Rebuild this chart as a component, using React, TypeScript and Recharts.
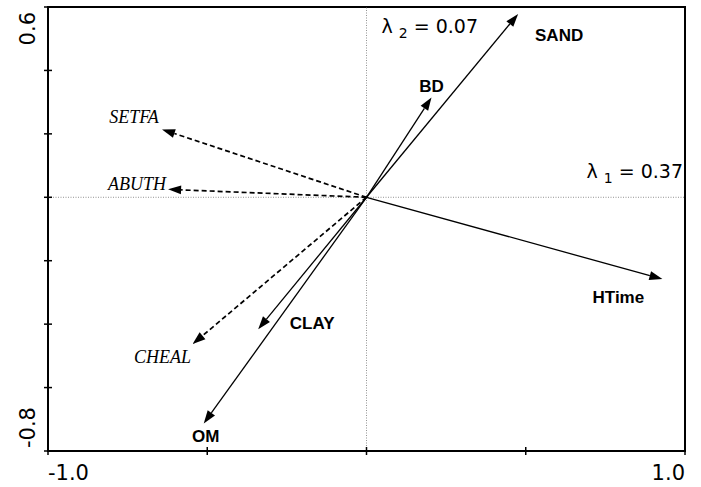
import React from 'react'
import { ScatterChart, Scatter, XAxis, YAxis, ReferenceLine, ReferenceArea } from 'recharts'

// environmental variables (solid arrows), scores on axis 1 / axis 2
const envNames = ['SAND', 'BD', 'HTime', 'CLAY', 'OM']
const envAxis1 = [0.476, 0.204, 0.929, -0.34, -0.511]
const envAxis2 = [0.578, 0.315, -0.258, -0.416, -0.713]

// weed species (dashed arrows)
const speciesNames = ['SETFA', 'ABUTH', 'CHEAL']
const speciesAxis1 = [-0.642, -0.623, -0.546]
const speciesAxis2 = [0.214, 0.025, -0.463]

const eigenvalues = [0.37, 0.07]
const xTicks = [-1, -0.5, 0, 0.5, 1]
const yTicks = [-0.8, -0.6, -0.4, -0.2, 0, 0.2, 0.4, 0.6]

// label placement relative to the arrow tip (px)
const labelOffset: Record<string, [number, number]> = {
  SAND: [41, 27],
  BD: [0, -5],
  HTime: [-44, 24],
  CLAY: [54, 0],
  OM: [2, 19],
  SETFA: [-28, -6],
  ABUTH: [-31, 1],
  CHEAL: [-30, 19],
}

const NUM_FONT = '"DejaVu Sans", sans-serif'

const makeArrow = (name: string, species: boolean) => (props: any) => {
  const pts = props.points || []
  if (pts.length < 2) return <g />
  const x0 = pts[0].x ?? pts[0].cx
  const y0 = pts[0].y ?? pts[0].cy
  const x1 = pts[1].x ?? pts[1].cx
  const y1 = pts[1].y ?? pts[1].cy
  const a = Math.atan2(y1 - y0, x1 - x0)
  const len = 13
  const hw = 4.5
  const bx = x1 - len * Math.cos(a)
  const by = y1 - len * Math.sin(a)
  const head = `${x1},${y1} ${bx + hw * Math.sin(a)},${by - hw * Math.cos(a)} ${bx - hw * Math.sin(a)},${by + hw * Math.cos(a)}`
  const [dx, dy] = labelOffset[name]
  return (
    <g>
      <line
        x1={x0}
        y1={y0}
        x2={bx}
        y2={by}
        stroke="#000"
        strokeWidth={species ? 1.7 : 1.3}
        strokeDasharray={species ? '5 3' : undefined}
      />
      <polygon points={head} fill="#000" />
      <text
        x={x1 + dx}
        y={y1 + dy}
        textAnchor="middle"
        fontFamily={species ? '"Liberation Serif", "Times New Roman", serif' : '"Liberation Sans", Arial, sans-serif'}
        fontStyle={species ? 'italic' : 'normal'}
        fontWeight={species ? 'normal' : 'bold'}
        fontSize={species ? 18 : 17}
        fill="#000"
      >
        {name}
      </text>
    </g>
  )
}

const renderXTick = (props: any) => {
  const { x, y, payload } = props
  const v = payload.value
  const label = v === -1 ? '-1.0' : v === 1 ? '1.0' : null
  return (
    <g key={`xt-${v}`}>
      <line x1={x} x2={x} y1={y - 4} y2={y + 4} stroke="#000" strokeWidth={1.5} />
      {label && (
        <text x={x} y={y + 29} textAnchor={v < 0 ? 'start' : 'end'} fontFamily={NUM_FONT} fontSize={21} fill="#000">
          {label}
        </text>
      )}
    </g>
  )
}

const renderYTick = (props: any) => {
  const { x, y, payload } = props
  const v = payload.value
  const label = v === -0.8 ? '-0.8' : v === 0.6 ? '0.6' : null
  const lx = x - 13
  const ly = v < 0 ? y - 3 : y + 5
  return (
    <g key={`yt-${v}`}>
      <line x1={x - 4} x2={x + 4} y1={y} y2={y} stroke="#000" strokeWidth={1.5} />
      {label && (
        <text
          x={lx}
          y={ly}
          transform={`rotate(-90, ${lx}, ${ly})`}
          textAnchor={v < 0 ? 'start' : 'end'}
          fontFamily={NUM_FONT}
          fontSize={21}
          fill="#000"
        >
          {label}
        </text>
      )}
    </g>
  )
}

const Lambda1 = (props: any) => {
  const vb = props.viewBox || {}
  const x = vb.x + vb.width - 2
  const y = vb.y - 19
  return (
    <text x={x} y={y} textAnchor="end" fontFamily={NUM_FONT} fontSize={19} fill="#000">
      <tspan>λ </tspan>
      <tspan fontSize={14} dy={5}>1</tspan>
      <tspan dy={-5}>{` = ${eigenvalues[0].toFixed(2)}`}</tspan>
    </text>
  )
}

const Lambda2 = (props: any) => {
  const vb = props.viewBox || {}
  const x = vb.x + 15
  const y = vb.y + 26
  return (
    <text x={x} y={y} textAnchor="start" fontFamily={NUM_FONT} fontSize={19} fill="#000">
      <tspan>λ </tspan>
      <tspan fontSize={14} dy={5}>2</tspan>
      <tspan dy={-5}>{` = ${eigenvalues[1].toFixed(2)}`}</tspan>
    </text>
  )
}

export default function App() {
  const env = envNames.map((name, i) => ({ name, data: [{ x: 0, y: 0 }, { x: envAxis1[i], y: envAxis2[i] }] }))
  const species = speciesNames.map((name, i) => ({
    name,
    data: [{ x: 0, y: 0 }, { x: speciesAxis1[i], y: speciesAxis2[i] }],
  }))

  return (
    <div style={{ position: 'absolute', left: 0, top: 0, width: 701, height: 487, background: '#fff' }}>
      <ScatterChart width={701} height={487} margin={{ top: 7, right: 16, bottom: 6, left: 18 }}>
        <XAxis
          type="number"
          dataKey="x"
          domain={[-1, 1]}
          ticks={xTicks}
          height={30}
          axisLine={false}
          tickLine={false}
          tickSize={0}
          tickMargin={0}
          tick={renderXTick}
          interval={0}
        />
        <YAxis
          type="number"
          dataKey="y"
          domain={[-0.8, 0.6]}
          ticks={yTicks}
          width={30}
          axisLine={false}
          tickLine={false}
          tickSize={0}
          tickMargin={0}
          tick={renderYTick}
          interval={0}
        />
        <ReferenceLine x={0} stroke="#777" strokeWidth={0.8} strokeDasharray="1 1.5" label={<Lambda2 />} />
        <ReferenceLine y={0} stroke="#777" strokeWidth={0.8} strokeDasharray="1 1.5" label={<Lambda1 />} />
        {species.map((s) => (
          <Scatter
            key={s.name}
            name={s.name}
            data={s.data}
            line={makeArrow(s.name, true)}
            shape={() => <g />}
            isAnimationActive={false}
          />
        ))}
        {env.map((s) => (
          <Scatter
            key={s.name}
            name={s.name}
            data={s.data}
            line={makeArrow(s.name, false)}
            shape={() => <g />}
            isAnimationActive={false}
          />
        ))}
        <ReferenceArea
          x1={-1}
          x2={1}
          y1={-0.8}
          y2={0.6}
          fill="none"
          fillOpacity={0}
          stroke="#000"
          strokeWidth={2}
          ifOverflow="visible"
        />
      </ScatterChart>
    </div>
  )
}
